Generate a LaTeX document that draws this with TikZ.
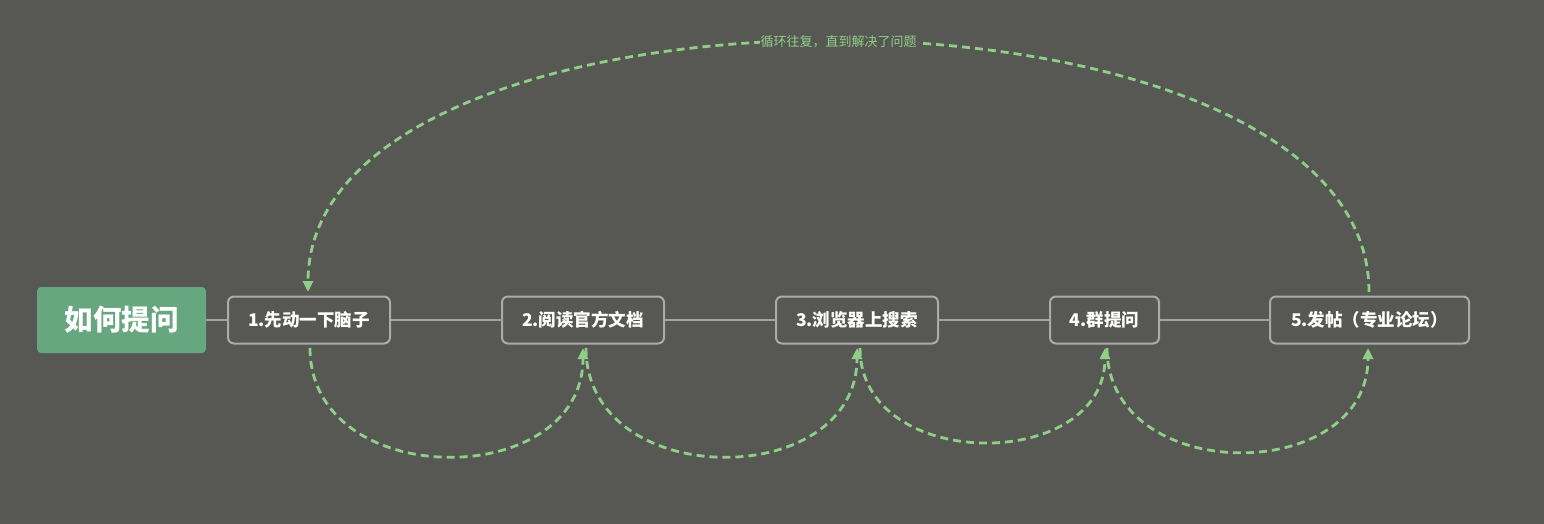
\documentclass[tikz,border=0pt]{standalone}
\usepackage{fontspec}
\setmainfont{Noto Sans CJK SC}
\usetikzlibrary{arrows.meta}
\definecolor{bg}{HTML}{575854}
\definecolor{rootgreen}{HTML}{66A77F}
\definecolor{boxline}{HTML}{ABABAB}
\definecolor{linkgray}{HTML}{A3A3A3}
\definecolor{loopgreen}{HTML}{8FCF87}
\tikzset{
  stepbox/.style={draw=boxline, line width=2pt, rounded corners=6pt, fill=bg,
    minimum height=47pt, text=white, font=\fontsize{17.5}{19}\selectfont\bfseries, inner sep=0pt},
  rootbox/.style={fill=rootgreen, rounded corners=4pt, minimum width=169pt, minimum height=66pt,
    text=white, font=\fontsize{28.5}{31}\selectfont\bfseries, inner sep=0pt},
  link/.style={draw=linkgray, line width=2pt},
  loop/.style={draw=loopgreen, line width=2.8pt, dash pattern=on 8pt off 5pt,
    -{Triangle[length=11pt,width=10pt,fill=loopgreen]}},
}
\begin{document}
\begin{tikzpicture}[x=1pt,y=-1pt]
\fill[bg] (0,0) rectangle (1544,524);
\useasboundingbox (0,0) rectangle (1544,524);
\node[rootbox] (root) at (121.5,320) {如何提问};
\node[stepbox, minimum width=162pt] (s1) at (309,320) {1.先动一下脑子};
\node[stepbox, minimum width=162pt] (s2) at (583,320) {2.阅读官方文档};
\node[stepbox, minimum width=162pt] (s3) at (857,320) {3.浏览器上搜索};
\node[stepbox, minimum width=109pt] (s4) at (1104.5,320) {4.群提问};
\node[stepbox, minimum width=199pt] (s5) at (1369.5,320) {5.发帖（专业论坛）};
\draw[link] (root.east) -- (s1.west);
\draw[link] (s1.east) -- (s2.west);
\draw[link] (s2.east) -- (s3.west);
\draw[link] (s3.east) -- (s4.west);
\draw[link] (s4.east) -- (s5.west);
% bottom loops
\coordinate (b1s) at (310,348);
\coordinate (b2e) at (583,348);
\coordinate (b2s) at (586,348);
\coordinate (b3e) at (857,348);
\coordinate (b3s) at (860,348);
\coordinate (b4e) at (1105,348);
\coordinate (b4s) at (1107,348);
\coordinate (b5e) at (1368,348);
\draw[loop] (b1s) .. controls (310,492) and (583,492) .. (b2e);
\draw[loop] (b2s) .. controls (586,492) and (857,492) .. (b3e);
\draw[loop] (b3s) .. controls (860,473) and (1105,473) .. (b4e);
\draw[loop] (b4s) .. controls (1107,486) and (1368,486) .. (b5e);
% top loop
\coordinate (t5) at (1369,292);
\coordinate (t1) at (308,292);
\draw[loop] (t5) .. controls (1369,-42) and (308,-42) .. (t1)
  node[pos=0.5, fill=bg, inner sep=1pt, text=loopgreen, font=\fontsize{13}{14}\selectfont] (lbl) {循环往复，直到解决了问题};
\end{tikzpicture}
\end{document}
